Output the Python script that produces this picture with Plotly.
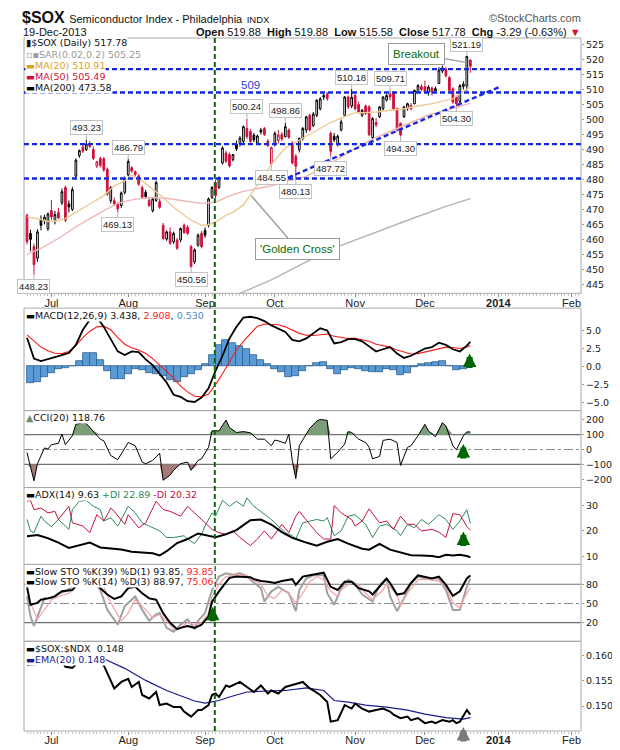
import plotly.graph_objects as go

# Trading days from 20-Jun-2013 (index 0) to 19-Dec-2013 (index 127).
# The x axis is the trading-day index, months are labelled at their first session.
opens = [468.0, 462.0, 457.6, 453.7, 466.6, 466.2, 463.6,
         469.6, 466.3, 469.0, 472.2, 477.3, 471.8, 470.0, 481.1, 488.0, 490.8, 490.0, 492.0, 490.0, 484.5, 487.0,
         486.9, 483.4, 472.9, 472.9, 471.8, 471.3, 475.7,
         481.5, 483.9, 482.6, 481.2, 477.3, 475.7, 473.0, 469.6, 473.0, 472.6, 464.7, 460.1, 462.5, 459.2, 459.8,
         459.8, 464.7, 464.0, 457.6, 452.5, 458.1, 462.0,
         463.0, 464.7, 474.0, 479.0, 477.3, 485.5, 488.8, 488.3, 486.6, 491.8, 491.9, 492.7, 497.0, 496.0, 494.8,
         492.1, 496.5, 497.0, 492.8, 485.2,
         491.6, 493.0, 495.0, 494.3, 496.5, 492.1, 487.7, 489.9, 493.7, 496.5, 501.4, 498.0, 501.4, 503.6, 508.0,
         508.5, 495.4, 494.4, 491.8, 496.5, 501.4, 507.5, 504.5,
         508.0, 505.0, 501.4, 504.5, 504.2, 494.0, 499.0, 500.9, 503.6, 506.5, 508.5, 509.2, 503.6, 498.7, 500.9,
         503.6, 504.7, 505.3, 509.1, 511.0,
         511.0, 509.0, 510.5, 509.5, 512.0, 516.2, 516.8, 514.0, 510.2, 507.5, 506.0, 511.0, 511.2, 519.88]
highs = [468.6, 463.2, 458.6, 463.4, 468.0, 468.2, 469.0,
         473.2, 469.5, 470.5, 477.0, 478.0, 473.0, 477.5, 487.0, 490.0, 491.5, 493.23, 492.8, 491.0, 486.2, 487.6,
         487.5, 484.0, 477.8, 474.0, 472.5, 476.0, 481.0,
         486.79, 484.5, 483.0, 481.8, 478.0, 476.5, 473.8, 474.0, 479.6, 473.5, 465.5, 463.0, 464.0, 462.6, 460.5,
         464.0, 465.3, 464.8, 458.2, 457.0, 462.0, 462.8,
         464.0, 474.0, 477.8, 480.0, 481.0, 491.0, 489.6, 489.0, 488.5, 493.0, 494.5, 498.0, 500.24, 496.8, 495.5,
         495.0, 497.2, 497.5, 493.5, 491.0,
         496.0, 496.5, 495.8, 498.86, 497.0, 492.8, 488.5, 494.0, 497.5, 501.2, 502.0, 502.5, 506.8, 507.5, 508.8,
         509.2, 496.0, 495.5, 495.0, 500.0, 507.8, 508.0, 510.18,
         508.5, 506.0, 503.5, 505.0, 504.8, 500.8, 500.5, 504.5, 507.8, 508.5, 509.71, 509.5, 504.0, 499.0, 504.6,
         505.6, 505.5, 510.0, 511.8, 511.8,
         513.0, 511.5, 511.0, 511.0, 517.5, 518.0, 517.5, 514.5, 510.8, 508.0, 511.8, 512.8, 521.19, 519.88]
lows = [458.3, 456.0, 448.23, 452.5, 463.0, 465.0, 462.8,
        466.5, 465.0, 466.8, 471.5, 465.8, 469.0, 469.5, 480.5, 487.2, 488.8, 489.5, 490.5, 486.5, 483.8, 484.0,
        482.5, 474.5, 472.0, 471.2, 469.13, 470.5, 475.0,
        481.0, 482.2, 481.0, 477.8, 473.5, 473.5, 470.8, 469.0, 472.5, 470.2, 459.8, 459.5, 458.2, 458.5, 456.5,
        459.0, 461.8, 461.5, 450.56, 451.8, 457.5, 457.0,
        460.5, 464.0, 473.5, 473.8, 476.8, 485.0, 485.5, 484.0, 486.0, 489.5, 491.0, 492.0, 493.5, 492.0, 492.5,
        491.5, 495.0, 494.5, 490.8, 484.55,
        491.0, 492.0, 492.8, 494.0, 493.6, 485.0, 480.13, 489.0, 493.0, 495.5, 496.0, 497.5, 500.8, 503.0, 506.5,
        506.2, 487.72, 492.5, 491.0, 496.0, 501.0, 503.5, 503.8,
        503.0, 502.0, 500.8, 501.5, 494.5, 493.5, 497.5, 500.5, 503.0, 506.0, 506.5, 503.0, 496.0, 494.30, 500.5,
        503.0, 503.0, 505.0, 508.8, 509.5,
        508.5, 508.0, 508.0, 509.0, 511.8, 515.5, 514.0, 509.2, 505.3, 504.30, 505.5, 510.0, 509.5, 515.58]
closes = [459.2, 460.0, 451.6, 462.5, 464.7, 467.4, 468.5,
          467.5, 468.3, 467.2, 475.9, 466.4, 470.8, 476.6, 486.4, 489.6, 489.4, 491.8, 491.0, 487.0, 485.9, 484.7,
          483.2, 475.1, 477.3, 471.8, 470.2, 475.5, 480.3,
          486.0, 482.8, 481.6, 478.4, 474.0, 474.3, 471.3, 473.5, 479.0, 470.7, 460.3, 462.5, 458.7, 462.0, 457.0,
          463.6, 462.3, 462.0, 451.0, 456.5, 461.4, 457.6,
          461.4, 473.5, 477.3, 474.6, 480.6, 490.5, 486.1, 484.5, 488.3, 490.2, 493.8, 497.6, 494.3, 492.7, 493.2,
          494.5, 495.8, 495.0, 491.3, 490.6,
          495.4, 494.8, 493.5, 497.6, 494.0, 485.5, 484.4, 493.7, 497.0, 500.9, 496.5, 501.8, 506.4, 506.9, 507.5,
          507.0, 489.4, 493.2, 494.4, 499.2, 507.5, 504.2, 507.4,
          503.6, 502.5, 503.1, 502.0, 494.9, 500.3, 498.2, 504.2, 507.5, 508.0, 507.5, 503.6, 496.5, 494.9, 504.2,
          505.3, 503.6, 509.7, 511.3, 510.0,
          509.1, 510.8, 509.2, 510.3, 516.5, 517.2, 514.6, 509.7, 505.8, 505.3, 511.3, 511.8, 521.07, 517.78]

month_ticks = [7, 29, 51, 71, 94, 114, 135, 156]
month_labels = ['Jul', 'Aug', 'Sep', 'Oct', 'Nov', 'Dec', '<b>2014</b>', 'Feb']

# moving averages on the price panel
ma20_x = [0, 3, 6, 9, 11, 14, 18, 22, 25, 28, 30, 33, 36, 39, 42, 45, 47, 50, 52, 54, 57, 59, 62, 65, 68, 71,
          74, 78, 81, 84, 87, 90, 94, 97, 100, 104, 108, 112, 116, 120, 122, 124, 126, 127]
ma20 = [467.5, 466.9, 466.0, 466.3, 466.9, 469.1, 471.8, 474.6, 477.9, 479.5, 481.5, 479.5, 476.8, 474.0, 470.7,
        468.0, 466.4, 464.7, 464.9, 465.8, 468.0, 469.0, 471.5, 476.5, 481.5, 486.5, 490.5, 493.2, 495.0, 497.0,
        499.0, 500.5, 502.3, 502.3, 502.5, 503.1, 503.6, 504.5, 505.3, 506.4, 506.9, 508.5, 510.3, 510.91]
ma50_x = [0, 4, 9, 14, 18, 22, 26, 30, 35, 40, 45, 50, 54, 58, 62, 66, 70, 75, 80, 85, 90, 95, 100, 105, 110,
          115, 120, 124, 127]
ma50 = [455.0, 457.0, 460.3, 464.2, 466.9, 469.6, 472.0, 473.2, 474.0, 473.7, 472.8, 472.0, 472.4, 474.5, 476.0,
        477.0, 477.9, 479.5, 481.0, 484.0, 487.5, 491.0, 494.0, 496.5, 499.0, 501.5, 503.0, 504.5, 505.49]
ma200_x = [55, 61, 70, 80, 90, 100, 110, 120, 127]
ma200 = [439.5, 442.0, 446.5, 452.5, 458.0, 462.5, 466.8, 471.0, 473.58]
sar_last = 505.25

support_levels = [516.8, 509.0, 491.8, 480.3]
trend_x = [74.8, 135.8]
trend_y = [480.6, 511.1]
signal_day = 53.8   # green vertical marker

# MACD(12,26,9)
macd_x = list(range(0, 128, 2)) + [127]
macd = [4.0, 1.1, 0.75, 1.0, 1.25, 1.6, 1.9, 3.0, 5.1, 6.5, 6.9, 5.5, 3.8, 2.1, 1.6, 2.1, 2.0, 1.0, 0.2, -1.0,
        -2.2, -3.9, -4.2, -4.8, -4.9, -4.3, -3.0, -0.6, 1.5, 3.9, 5.5, 6.8, 6.9, 6.7, 6.3, 5.7, 5.3, 4.8, 3.7,
        3.5, 3.9, 4.6, 5.3, 5.0, 3.2, 3.4, 3.8, 3.8, 3.5, 2.8, 2.1, 2.4, 2.7, 1.8, 1.2, 1.5, 2.0, 2.5, 2.7, 3.3,
        3.0, 2.4, 2.1, 2.9, 3.438]
macd_signal = [4.4, 3.6, 2.7, 2.2, 1.85, 1.8, 2.1, 2.9, 4.0, 4.9, 5.5, 5.6, 5.1, 4.0, 3.1, 2.6, 2.3, 1.8, 1.1,
               0.2, -0.7, -1.6, -2.7, -3.5, -4.1, -4.2, -3.8, -2.5, -1.0, 0.6, 2.3, 3.5, 4.6, 5.6, 5.9, 5.9,
               5.8, 5.5, 5.0, 4.6, 4.35, 4.3, 4.4, 4.5, 4.2, 4.0, 3.9, 3.9, 3.7, 3.5, 3.1, 2.9, 2.7, 2.3, 2.0,
               1.75, 1.8, 2.0, 2.2, 2.5, 2.7, 2.65, 2.5, 2.7, 2.908]
hist_x = list(range(1, 128, 2))
macd_hist = [-2.3, -2.1, -1.5, -0.9, -0.4, -0.15, 0.1, 0.7, 1.8, 1.9, 0.9, -0.6, -1.7, -1.8, -1.0, -0.4, -0.5,
             -0.9, -1.0, -1.3, -1.9, -2.1, -1.4, -1.1, -0.5, 0.3, 1.6, 3.0, 3.6, 3.2, 2.9, 2.4, 1.6, 0.9, 0.3,
             -0.3, -0.8, -1.4, -1.3, -0.6, 0.1, 0.5, 0.6, -0.4, -1.0, -0.5, -0.2, -0.4, -0.6, -0.8, -0.7, -0.3,
             -0.5, -1.2, -0.9, -0.1, 0.4, 0.5, 0.65, 0.75, 0.1, -0.45, -0.3, 0.53]

# CCI(20)
cci_x = [0, 1, 2, 3, 5, 6, 7, 9, 10, 11, 13, 14, 16, 17, 19, 21, 22, 24, 26, 28, 29, 31, 33, 34, 36, 38, 39, 41,
         42, 44, 46, 47, 49, 50, 52, 53, 55, 57, 58, 60, 62, 64, 66, 68, 70, 71, 72, 74, 75, 76, 77, 78, 80, 81,
         83, 84, 86, 87, 89, 91, 92, 93, 95, 97, 98, 99, 101, 102, 104, 106, 107, 109, 110, 112, 114, 115, 117,
         119, 120, 122, 123, 125, 126, 127]
cci = [-20, -120, -210, -95, 11, 4, 33, 42, 104, 33, 93, 170, 181, 175, 126, 70, 59, -40, -68, 15, 48, 26, -84,
       -95, -73, -24, -206, -172, -139, -95, -84, -139, -73, -62, 15, 126, 126, 199, 148, 115, 121, 113, 70, 70,
       26, 64, 59, 42, 104, -73, -195, 26, 104, 143, 192, 203, 196, -62, -18, 37, 121, 115, 70, 48, 15, -62, -46,
       62, 70, 48, -106, 15, 26, 93, 170, 126, 86, 181, 159, 26, -2, 93, 119, 118.76]
cci_levels = [100, -100]

# ADX(14), +DI, -DI
adx_x = [0, 3, 6, 9, 12, 15, 18, 21, 24, 27, 30, 33, 36, 38, 40, 43, 46, 49, 51, 54, 57, 60, 62, 64, 67, 70, 73,
         76, 80, 83, 86, 89, 92, 96, 98, 101, 104, 107, 110, 113, 116, 118, 120, 122, 124, 126, 127]
adx = [17.9, 18.4, 17.1, 15.4, 13.3, 14.2, 15.4, 13.5, 13.1, 12.7, 11.8, 11.6, 11.2, 10.3, 12.0, 15.2, 16.8, 19.0,
       18.4, 17.5, 18.7, 20.3, 22.3, 24.2, 24.5, 22.5, 19.5, 17.3, 15.4, 14.2, 15.7, 16.8, 15.0, 13.0, 12.6, 14.9,
       12.6, 11.6, 10.4, 10.3, 10.1, 9.6, 10.6, 10.3, 10.6, 10.1, 9.63]
pdi_x = [0, 1, 2, 4, 5, 7, 9, 12, 13, 15, 17, 19, 21, 22, 24, 26, 29, 31, 33, 36, 38, 40, 42, 45, 46, 48, 50, 51,
         53, 54, 56, 58, 60, 62, 63, 65, 68, 70, 72, 74, 76, 77, 79, 81, 83, 85, 86, 88, 90, 92, 94, 97, 99, 101,
         103, 106, 107, 109, 111, 113, 115, 118, 120, 122, 124, 126, 127]
pdi = [24.5, 20, 19.3, 25.8, 23.9, 21.7, 24.5, 20.6, 28.4, 31.7, 32, 29.7, 28.4, 23.9, 25.2, 21.9, 29.7, 27.1,
       23.2, 21.2, 20, 17.4, 17.4, 18.1, 16.8, 15, 18.7, 21.9, 27.1, 25.8, 32, 29.7, 31.7, 29.7, 33, 29.7, 26.4,
       24.5, 21.9, 19.3, 18.1, 16.8, 23.2, 23.9, 24.5, 23.9, 25.2, 18.1, 20, 25.8, 26.4, 22.6, 17.4, 21.9, 22.6,
       20, 18.1, 22.6, 21.2, 24.5, 22.6, 26.4, 24.5, 20.6, 23.9, 28.4, 22.89]
mdi_x = [0, 1, 2, 4, 6, 8, 9, 12, 13, 16, 18, 20, 22, 24, 25, 28, 29, 32, 34, 37, 39, 41, 44, 46, 48, 50, 53, 55,
         57, 59, 61, 64, 66, 68, 70, 73, 75, 77, 78, 81, 83, 85, 87, 88, 90, 93, 94, 96, 98, 101, 103, 105, 107,
         109, 111, 113, 116, 118, 120, 122, 124, 126, 127]
mdi = [31.7, 32, 28.4, 29, 27.1, 27.7, 24.5, 29.7, 23.2, 21.9, 19.3, 26.4, 23.9, 29, 27.7, 22.6, 26.4, 21.2, 23.2,
       31.7, 28.4, 27.7, 25.8, 29.7, 27.1, 24.5, 20.6, 19.3, 18.7, 20, 17.4, 14.2, 16.8, 20, 16.8, 22.6, 19.3,
       25.8, 27.7, 22.6, 19.3, 16.8, 16.8, 30, 27.1, 24.5, 21.9, 23.9, 28.7, 23.2, 23.9, 20.6, 25.8, 22.6, 22.6,
       20, 20.6, 19.5, 17.4, 26.8, 26.4, 21.7, 20.32]

# Slow stochastics
k39_x = [0, 1, 3, 4, 6, 8, 10, 13, 14, 16, 18, 20, 21, 23, 25, 27, 29, 31, 33, 35, 37, 39, 41, 43, 44, 46, 48,
         50, 52, 53, 55, 57, 58, 60, 62, 64, 65, 67, 69, 71, 73, 76, 77, 79, 81, 84, 85, 87, 89, 91, 93, 95, 98,
         99, 101, 103, 104, 106, 108, 110, 112, 114, 116, 118, 120, 122, 124, 126, 127]
k39 = [76, 48, 51, 56, 58, 61, 69, 71, 77, 88, 95, 90, 74, 64, 57, 61, 74, 76, 66, 58, 56, 35, 20, 10, 12, 15,
       12, 17, 30, 53, 69, 84, 90, 92, 92, 91, 88, 85, 84, 82, 85, 88, 79, 92, 94, 97, 98, 76, 71, 84, 84, 74,
       69, 64, 76, 89, 82, 64, 66, 82, 94, 92, 89, 92, 79, 62, 69, 89, 93.85]
k14_x = [0, 1, 2, 4, 5, 7, 9, 11, 13, 15, 17, 19, 21, 23, 26, 28, 31, 33, 35, 37, 38, 40, 42, 44, 46, 48, 49,
         51, 53, 55, 57, 59, 61, 63, 64, 67, 68, 70, 72, 75, 77, 78, 80, 82, 85, 86, 88, 90, 92, 94, 96, 99, 101,
         103, 104, 106, 108, 110, 112, 114, 116, 118, 120, 122, 124, 126, 127]
k14 = [61, 30, 15, 46, 58, 58, 66, 69, 76, 88, 94, 85, 71, 40, 17, 46, 61, 40, 23, 33, 35, 12, 6, 17, 25, 10,
       23, 35, 71, 92, 97, 95, 97, 93, 87, 74, 53, 69, 76, 66, 38, 71, 89, 94, 94, 66, 48, 74, 87, 81, 64, 53,
       79, 89, 61, 38, 58, 81, 92, 89, 89, 89, 71, 40, 40, 76, 88.97]
d3_x = [0, 1, 3, 5, 7, 9, 12, 13, 15, 17, 19, 22, 24, 27, 29, 31, 33, 36, 38, 40, 42, 44, 46, 48, 50, 52, 53,
        55, 57, 60, 63, 64, 67, 69, 71, 73, 75, 77, 79, 81, 83, 85, 87, 89, 90, 93, 95, 97, 99, 102, 103, 106,
        107, 109, 112, 114, 116, 118, 120, 122, 124, 125, 127]
d3 = [79, 51, 25, 40, 56, 61, 66, 71, 82, 90, 90, 76, 51, 23, 35, 56, 46, 28, 33, 23, 10, 12, 20, 17, 20, 35,
      61, 80, 92, 95, 94, 89, 81, 61, 58, 71, 66, 51, 66, 84, 92, 87, 69, 61, 71, 84, 79, 66, 56, 71, 81, 64,
      46, 66, 87, 88, 87, 85, 76, 51, 43, 56, 75.06]
sto_levels = [80, 20]

# $SOX:$NDX ratio and its EMA(20)
ratio_x = [0, 1, 3, 6, 8, 10, 11, 13, 15, 18, 21, 22, 24, 25, 27, 29, 30, 32, 33, 35, 37, 38, 40, 42, 44, 45,
           47, 49, 50, 52, 53, 54, 55, 57, 58, 61, 63, 65, 67, 69, 70, 72, 74, 76, 77, 79, 81, 82, 84, 86, 87,
           89, 91, 93, 94, 96, 98, 100, 102, 104, 105, 107, 109, 110, 112, 114, 116, 117, 119, 121, 122, 123,
           124, 126, 127]
ratio = [0.1581, 0.1584, 0.1591, 0.1593, 0.1594, 0.1590, 0.1578, 0.1576, 0.1590, 0.1595, 0.1600, 0.1581,
         0.1548, 0.1535, 0.1548, 0.1554, 0.1538, 0.1548, 0.1522, 0.1515, 0.1528, 0.1502, 0.1505, 0.1498,
         0.1498, 0.1489, 0.1479, 0.1492, 0.1492, 0.1502, 0.1522, 0.1525, 0.1518, 0.1541, 0.1538, 0.1548,
         0.1538, 0.1528, 0.1541, 0.1525, 0.1531, 0.1525, 0.1538, 0.1541, 0.1544, 0.1548, 0.1535, 0.1531,
         0.1522, 0.1508, 0.1469, 0.1472, 0.1502, 0.1495, 0.1505, 0.1495, 0.1489, 0.1492, 0.1495, 0.1489,
         0.1483, 0.1476, 0.1479, 0.1472, 0.1476, 0.1466, 0.1469, 0.1466, 0.1472, 0.1469, 0.1472, 0.1466,
         0.1469, 0.1492, 0.1483]
ema_x = [0, 5, 10, 15, 20, 22, 28, 34, 40, 46, 48, 51, 55, 58, 63, 69, 74, 80, 85, 88, 92, 97, 103, 109, 114,
         120, 125, 127]
ema = [0.1581, 0.1585, 0.1588, 0.1591, 0.1594, 0.1594, 0.1575, 0.1551, 0.1531, 0.1515, 0.1510, 0.1506,
       0.1511, 0.1518, 0.1528, 0.1530, 0.1531, 0.1536, 0.1531, 0.1511, 0.1508, 0.1502, 0.1498, 0.1492,
       0.1484, 0.1477, 0.1474, 0.1477]

# highs / lows that carry a value box: (day index, 'high' or 'low')
price_marks = [(2, 'low'), (17, 'high'), (26, 'low'), (29, 'high'), (47, 'low'), (63, 'high'), (70, 'low'),
               (74, 'high'), (77, 'low'), (87, 'low'), (93, 'high'), (104, 'high'), (107, 'low'),
               (123, 'low'), (126, 'high')]

# green / grey signal arrows: (axis, day index, tip value, colour)
signal_arrows = [('y2', 126.8, 1.8, '#006400'), ('y3', 125, 38, '#006400'), ('y4', 125, 19.8, '#006400'),
                 ('y5', 53.2, 45, '#006400'), ('y6', 125, 0.14585, '#7a7a7a')]

# ---------------------------------------------------------------- layout helpers
W, H = 620, 750
ML, MR, MT, MB = 16, 47, 30, 17


def px(x):
    return (x - ML) / (W - ML - MR)


def py(y):
    return (H - MB - y) / (H - MT - MB)


panel_px = {'y': (30, 289), 'y2': (304, 408), 'y3': (408, 486), 'y4': (486, 564), 'y5': (564, 642),
            'y6': (642, 733)}


def dom(k):
    top, bot = panel_px[k]
    return [py(bot), py(top)]


RED = '#d0103a'
fig = go.Figure()

# ---- price panel
fig.add_trace(go.Scatter(x=ma200_x, y=ma200, mode='lines', line=dict(color='#b4b4b4', width=1.4),
                         xaxis='x', yaxis='y', hoverinfo='skip'))
fig.add_trace(go.Scatter(x=ma50_x, y=ma50, mode='lines', line=dict(color='#f3b6b6', width=1.4),
                         xaxis='x', yaxis='y', hoverinfo='skip'))
fig.add_trace(go.Scatter(x=ma20_x, y=ma20, mode='lines', line=dict(color='#ebcb92', width=1.4),
                         xaxis='x', yaxis='y', hoverinfo='skip'))

prev_close = [None] + closes[:-1]
for col, pick in [('black', lambda c, p: p is not None and c >= p),
                  (RED, lambda c, p: p is None or c < p)]:
    ix = [i for i in range(len(closes)) if pick(closes[i], prev_close[i])]
    fig.add_trace(go.Candlestick(
        x=ix, open=[opens[i] for i in ix], high=[highs[i] for i in ix],
        low=[lows[i] for i in ix], close=[closes[i] for i in ix],
        increasing=dict(line=dict(color=col, width=1), fillcolor='white'),
        decreasing=dict(line=dict(color=col, width=1), fillcolor=col),
        whiskerwidth=0, xaxis='x', yaxis='y', hoverinfo='skip'))

# ---- MACD
fig.add_trace(go.Bar(x=hist_x, y=macd_hist, width=2, marker=dict(color='#5b9bd5', line=dict(color='#2a5d8f', width=0.8)),
                     xaxis='x2', yaxis='y2', hoverinfo='skip'))
fig.add_trace(go.Scatter(x=macd_x, y=macd_signal, mode='lines', line=dict(color='#ff1a1a', width=1.1),
                         xaxis='x2', yaxis='y2', hoverinfo='skip'))
fig.add_trace(go.Scatter(x=macd_x, y=macd, mode='lines', line=dict(color='black', width=1.8),
                         xaxis='x2', yaxis='y2', hoverinfo='skip'))

# ---- CCI with shaded extremes
fig.add_trace(go.Scatter(x=cci_x, y=[100] * len(cci_x), mode='lines', line=dict(width=0),
                         xaxis='x2', yaxis='y3', hoverinfo='skip'))
fig.add_trace(go.Scatter(x=cci_x, y=[max(v, 100) for v in cci], mode='lines', line=dict(width=0),
                         fill='tonexty', fillcolor='#7b9e79', xaxis='x2', yaxis='y3', hoverinfo='skip'))
fig.add_trace(go.Scatter(x=cci_x, y=[-100] * len(cci_x), mode='lines', line=dict(width=0),
                         xaxis='x2', yaxis='y3', hoverinfo='skip'))
fig.add_trace(go.Scatter(x=cci_x, y=[min(v, -100) for v in cci], mode='lines', line=dict(width=0),
                         fill='tonexty', fillcolor='#a47a76', xaxis='x2', yaxis='y3', hoverinfo='skip'))
fig.add_trace(go.Scatter(x=cci_x, y=cci, mode='lines', line=dict(color='black', width=1),
                         xaxis='x2', yaxis='y3', hoverinfo='skip'))

# ---- ADX
fig.add_trace(go.Scatter(x=pdi_x, y=pdi, mode='lines', line=dict(color='#2e8b57', width=1),
                         xaxis='x2', yaxis='y4', hoverinfo='skip'))
fig.add_trace(go.Scatter(x=mdi_x, y=mdi, mode='lines', line=dict(color='#c8103e', width=1),
                         xaxis='x2', yaxis='y4', hoverinfo='skip'))
fig.add_trace(go.Scatter(x=adx_x, y=adx, mode='lines', line=dict(color='black', width=2),
                         xaxis='x2', yaxis='y4', hoverinfo='skip'))

# ---- stochastics
fig.add_trace(go.Scatter(x=k14_x, y=k14, mode='lines', line=dict(color='#a0a0a0', width=2),
                         xaxis='x2', yaxis='y5', hoverinfo='skip'))
fig.add_trace(go.Scatter(x=d3_x, y=d3, mode='lines', line=dict(color='#f4a3a3', width=1.2),
                         xaxis='x2', yaxis='y5', hoverinfo='skip'))
fig.add_trace(go.Scatter(x=k39_x, y=k39, mode='lines', line=dict(color='black', width=2),
                         xaxis='x2', yaxis='y5', hoverinfo='skip'))

# ---- ratio
fig.add_trace(go.Scatter(x=ema_x, y=ema, mode='lines', line=dict(color='#1a1a8c', width=1.2),
                         xaxis='x2', yaxis='y6', hoverinfo='skip'))
fig.add_trace(go.Scatter(x=ratio_x, y=ratio, mode='lines', line=dict(color='black', width=2),
                         xaxis='x2', yaxis='y6', hoverinfo='skip'))

# ---------------------------------------------------------------- axes
xcommon = dict(range=[-0.86, 158.7], tickmode='array', tickvals=month_ticks, ticktext=month_labels,
               showgrid=False, zeroline=False, showline=False, ticks='outside', ticklen=3, tickcolor='#888',
               ticklabelstandoff=-4,
               tickfont=dict(family='Liberation Sans', size=11, color='#222'),
               minor=dict(ticks='outside', ticklen=2, tickcolor='#c4c4c4', tick0=0, dtick=1))
ycommon = dict(side='right', showgrid=False, zeroline=False, showline=False, ticks='outside', ticklen=2,
               tickcolor='#999', tickfont=dict(family='DejaVu Sans', size=9.5, color='#222'))

fig.update_layout(
    width=W, height=H, margin=dict(l=ML, r=MR, t=MT, b=MB),
    paper_bgcolor='white', plot_bgcolor='white', showlegend=False, bargap=0,
    xaxis=dict(domain=[0, 1], anchor='y', rangeslider=dict(visible=False), **xcommon),
    xaxis2=dict(domain=[0, 1], anchor='y6', matches='x', **xcommon),
    yaxis=dict(domain=dom('y'), anchor='x', range=[442.0, 527.2], tickvals=list(range(445, 530, 5)), **ycommon),
    yaxis2=dict(domain=dom('y2'), anchor='x2', range=[-6.1, 8.1], tickvals=[-5, -2.5, 0, 2.5, 5],
                tickformat='.1f', **ycommon),
    yaxis3=dict(domain=dom('y3'), anchor='x2', range=[-255, 262], tickvals=[-200, -100, 0, 100, 200], **ycommon),
    yaxis4=dict(domain=dom('y4'), anchor='x2', range=[6.8, 37.1], tickvals=[10, 20, 30], **ycommon),
    yaxis5=dict(domain=dom('y5'), anchor='x2', range=[-9, 111], tickvals=[20, 50, 80], **ycommon),
    yaxis6=dict(domain=dom('y6'), anchor='x2', range=[0.14504, 0.16288], tickvals=[0.150, 0.155, 0.160],
                tickformat='.3f', **ycommon),
)

# ---------------------------------------------------------------- shapes
shapes = []
for k in panel_px:
    d = dom(k)
    shapes.append(dict(type='rect', xref='paper', yref='paper', x0=0, x1=1, y0=d[0], y1=d[1],
                       line=dict(color='#a8a8a8', width=1)))
for lv in cci_levels:
    shapes.append(dict(type='line', xref='paper', yref='y3', x0=0, x1=1, y0=lv, y1=lv, layer='below',
                       line=dict(color='#707070', width=1.2)))
shapes.append(dict(type='line', xref='paper', yref='y3', x0=0, x1=1, y0=0, y1=0, layer='below',
                   line=dict(color='#8a8a8a', width=1, dash='dashdot')))
for lv in sto_levels:
    shapes.append(dict(type='line', xref='paper', yref='y5', x0=0, x1=1, y0=lv, y1=lv, layer='below',
                       line=dict(color='#707070', width=1.2)))
shapes.append(dict(type='line', xref='paper', yref='y5', x0=0, x1=1, y0=50, y1=50, layer='below',
                   line=dict(color='#8a8a8a', width=1, dash='dashdot')))
for lv in support_levels:
    shapes.append(dict(type='line', xref='paper', yref='y', x0=0, x1=1, y0=lv, y1=lv,
                       line=dict(color='#1428e0', width=2.4, dash='5px,3px')))
shapes.append(dict(type='line', xref='x', yref='y', x0=trend_x[0], x1=trend_x[1], y0=trend_y[0], y1=trend_y[1],
                   line=dict(color='#1428e0', width=2.4, dash='5px,3px')))
shapes.append(dict(type='line', xref='x', yref='paper', x0=signal_day, x1=signal_day, y0=0, y1=1,
                   line=dict(color='#0b6b0b', width=2, dash='5px,3px')))
fig.update_layout(shapes=shapes)

# ---------------------------------------------------------------- value boxes on highs / lows
for i, kind in price_marks:
    val = highs[i] if kind == 'high' else lows[i]
    fig.add_annotation(x=i, y=val, xref='x', yref='y', text=f'{val:.2f}', showarrow=True, arrowhead=0,
                       arrowcolor='#b5b5b5', arrowwidth=1, ax=0, ay=-12 if kind == 'high' else 12,
                       bgcolor='white', bordercolor='#c4c4c4', borderwidth=1, borderpad=1,
                       font=dict(family='Liberation Sans', size=9.5, color='#222'))

fig.add_annotation(x=126, y=519.0, xref='x', yref='y', text='Breakout', showarrow=True, arrowhead=0,
                   arrowcolor='#9a9a9a', arrowwidth=1.2, ax=-50, ay=-9, bgcolor='white', bordercolor='#9a9a9a',
                   borderwidth=1, borderpad=4, font=dict(family='Liberation Sans', size=11.5, color='#0a6b0a'))
fig.add_annotation(x=64.2, y=474.6, xref='x', yref='y', text="'Golden Cross'", showarrow=True, arrowhead=0,
                   arrowcolor='#9a9a9a', arrowwidth=1.5, ax=46, ay=53, bgcolor='white', bordercolor='#9a9a9a',
                   borderwidth=1, borderpad=4, font=dict(family='Liberation Sans', size=11.5, color='#0a6b0a'))
fig.add_annotation(x=64, y=support_levels[1], xref='x', yref='y', text=f'{support_levels[1]:.0f}',
                   showarrow=False, yanchor='bottom', font=dict(family='Liberation Sans', size=11.5, color='#2a3fd6'))

for yk, xi, tip, colr in signal_arrows:
    fig.add_annotation(x=xi, y=tip, xref='x2', yref=yk, text='', showarrow=True, arrowhead=2, arrowsize=0.45,
                       arrowwidth=6, arrowcolor=colr, ax=0, ay=16, standoff=0)


# ---------------------------------------------------------------- legends and header text
def note(text, x, y, size=9.5, color='#111', family='DejaVu Sans', anchor='left', bg='white'):
    fig.add_annotation(text=text, x=px(x), y=py(y), xref='paper', yref='paper', xanchor=anchor, yanchor='middle',
                       showarrow=False, font=dict(family=family, size=size, color=color), bgcolor=bg, borderpad=0)


def dash(c):
    return f"<span style='color:{c}'>▬</span>"


note("<b>$SOX</b> <span style='font-size:11px'>Semiconductor Index - Philadelphia</span> "
     "<span style='font-size:9.5px'>INDX</span>", 13, 9, size=16, family='Liberation Sans', bg=None)
note('©StockCharts.com', 574, 10, size=11, color='#555', family='Liberation Sans', anchor='right', bg=None)
note('19-Dec-2013', 14, 24, size=11, family='Liberation Sans', bg=None)
chg = closes[-1] - closes[-2]
note(f"<b>Open</b> {opens[-1]:.2f}  <b>High</b> {highs[-1]:.2f}  <b>Low</b> {lows[-1]:.2f}  "
     f"<b>Close</b> {closes[-1]:.2f}  <b>Chg</b> {chg:.2f} ({chg / closes[-2] * 100:.2f}%) "
     f"<span style='color:{RED}'>▼</span>", 574, 24, size=11, family='Liberation Sans', anchor='right', bg=None)

note(f"▮$SOX (Daily) {closes[-1]:.2f}", 17, 35)
note(f"<span style='color:#999'>▫▪SAR(0.02,0.2) {sar_last:.2f}</span>", 17, 47)
note(f"{dash('#d9a21b')}<span style='color:#d9a21b'>MA(20) {ma20[-1]:.2f}</span>", 17, 58)
note(f"{dash(RED)}<span style='color:{RED}'>MA(50) {ma50[-1]:.2f}</span>", 17, 69)
note(f"{dash('black')}MA(200) {ma200[-1]:.2f}", 17, 80)

note(f"{dash('black')}MACD(12,26,9) {macd[-1]:.3f}, <span style='color:#ff1a1a'>{macd_signal[-1]:.3f}</span>, "
     f"<span style='color:#4a8cc8'>{macd_hist[-1]:.3f}</span>", 17, 312)
note(f"<span style='color:#6b8e6b'>▲</span>CCI(20) {cci[-1]:.2f}", 17, 415)
note(f"{dash('black')}ADX(14) {adx[-1]:.2f} <span style='color:#2e8b57'>+DI {pdi[-1]:.2f}</span> "
     f"<span style='color:#c8103e'>-DI {mdi[-1]:.2f}</span>", 17, 493)
note(f"{dash('black')}Slow STO %K(39) %D(1) {k39[-1]:.2f}, <span style='color:#ff1a1a'>{k39[-1]:.2f}</span>",
     17, 571.5)
note(f"{dash('black')}Slow STO %K(14) %D(3) {k14[-1]:.2f}, <span style='color:#ff1a1a'>{d3[-1]:.2f}</span>",
     17, 581.5)
note(f"{dash('black')}$SOX:$NDX  {ratio[-1]:.3f}", 17, 649)
note(f"{dash('#1a1a8c')}<span style='color:#1a1a8c'>EMA(20) {ema[-1]:.3f}</span>", 17, 660)

fig.write_html("out.html")
